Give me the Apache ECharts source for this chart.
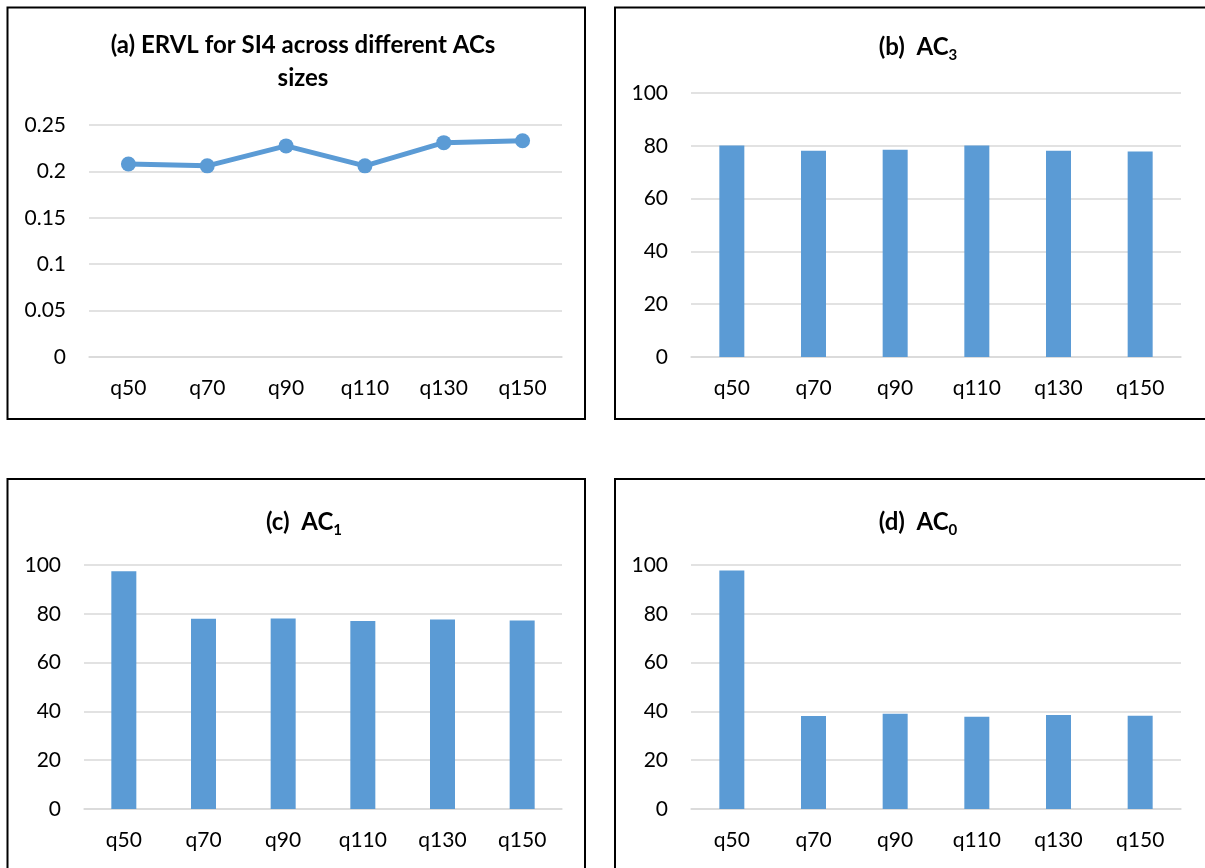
<!DOCTYPE html>
<html>
<head>
<meta charset="utf-8">
<title>ERVL and AC sizes</title>
<script src="https://cdn.jsdelivr.net/npm/echarts@6/dist/echarts.min.js"></script>
<style>
  html, body { margin: 0; padding: 0; background: #ffffff; }
  #chart { width: 1205px; height: 868px; }
</style>
</head>
<body>
<div id="chart"></div>
<script>
// Query sizes shared by all four panels
const categories = ['q50', 'q70', 'q90', 'q110', 'q130', 'q150'];

// (a) ERVL for SI4
const ervlValues = [0.208, 0.206, 0.2275, 0.206, 0.231, 0.233];
// (b) AC3, (c) AC1, (d) AC0
const ac3Values = [80.1, 78.1, 78.5, 80.1, 78.1, 77.8];
const ac1Values = [97.4, 78.0, 78.1, 77.0, 77.7, 77.3];
const ac0Values = [97.7, 38.1, 39.0, 37.8, 38.5, 38.2];

// Value-axis tick settings
const ervlTicks = { min: 0, max: 0.25, interval: 0.05 };
const pctTicks = { min: 0, max: 100, interval: 20 };

const BLUE = '#5B9BD5';
const GRID_GRAY = '#D9D9D9';
const FONT = 'Lato';

const chart = echarts.init(document.getElementById('chart'), null, { renderer: 'canvas' });

// Panel titles: main text plus a dropped subscript digit
const titleStyle = {
  fontFamily: FONT,
  fontWeight: 'bold',
  fontSize: 24,
  color: '#000',
  rich: {
    m: { fontFamily: FONT, fontWeight: 'bold', fontSize: 24, lineHeight: 26, verticalAlign: 'top', color: '#000' },
    sub: { fontFamily: FONT, fontWeight: 'bold', fontSize: 15, lineHeight: 15, padding: [13, 0, 0, 0], verticalAlign: 'top', color: '#000' }
  }
};

function makeX(gridIndex) {
  return {
    type: 'category',
    gridIndex: gridIndex,
    data: categories,
    axisTick: { show: false },
    axisLine: { show: true, lineStyle: { color: GRID_GRAY, width: 1.5 } },
    axisLabel: { fontFamily: FONT, fontSize: 21, color: '#000', margin: 21 }
  };
}

function makeY(gridIndex, ticks) {
  return {
    type: 'value',
    gridIndex: gridIndex,
    min: ticks.min,
    max: ticks.max,
    interval: ticks.interval,
    axisLine: { show: false },
    axisTick: { show: false },
    splitLine: { show: true, lineStyle: { color: GRID_GRAY, width: 1.5 } },
    axisLabel: { fontFamily: FONT, fontSize: 21, color: '#000', margin: 23 }
  };
}

function barSeries(idx, values) {
  return {
    type: 'bar',
    xAxisIndex: idx,
    yAxisIndex: idx,
    data: values,
    barWidth: 25,
    itemStyle: { color: BLUE },
    silent: true
  };
}

const option = {
  animation: false,
  backgroundColor: '#ffffff',
  title: [
    { text: '(a) ERVL for SI4 across different ACs\nsizes', left: 298, top: 24, textAlign: 'center',
      textStyle: { fontFamily: FONT, fontWeight: 'bold', fontSize: 24, lineHeight: 33, color: '#000' } },
    { text: '{m|(b)  AC}{sub|3}', left: 913, top: 30, textAlign: 'center', textStyle: titleStyle },
    { text: '{m|(c)  AC}{sub|1}', left: 299, top: 505, textAlign: 'center', textStyle: titleStyle },
    { text: '{m|(d)  AC}{sub|0}', left: 913, top: 505, textAlign: 'center', textStyle: titleStyle }
  ],
  grid: [
    { left: 89, top: 125, width: 473, height: 232 },
    { left: 691, top: 93, width: 490, height: 264 },
    { left: 84, top: 565, width: 478, height: 244 },
    { left: 691, top: 565, width: 490, height: 244 }
  ],
  xAxis: [makeX(0), makeX(1), makeX(2), makeX(3)],
  yAxis: [makeY(0, ervlTicks), makeY(1, pctTicks), makeY(2, pctTicks), makeY(3, pctTicks)],
  series: [
    {
      type: 'line',
      xAxisIndex: 0,
      yAxisIndex: 0,
      data: ervlValues,
      symbol: 'circle',
      symbolSize: 15,
      lineStyle: { color: BLUE, width: 5 },
      itemStyle: { color: BLUE },
      silent: true
    },
    barSeries(1, ac3Values),
    barSeries(2, ac1Values),
    barSeries(3, ac0Values)
  ],
  graphic: [
    // panel frames
    { type: 'rect', shape: { x: 7.5, y: 7.5, width: 577.5, height: 411.5 }, style: { fill: null, stroke: '#000', lineWidth: 2 }, silent: true },
    { type: 'rect', shape: { x: 615, y: 7.5, width: 600, height: 411.5 }, style: { fill: null, stroke: '#000', lineWidth: 2 }, silent: true },
    { type: 'rect', shape: { x: 7.5, y: 479, width: 577.5, height: 400 }, style: { fill: null, stroke: '#000', lineWidth: 2 }, silent: true },
    { type: 'rect', shape: { x: 615, y: 479, width: 600, height: 400 }, style: { fill: null, stroke: '#000', lineWidth: 2 }, silent: true }
  ]
};

chart.setOption(option);
</script>
</body>
</html>
